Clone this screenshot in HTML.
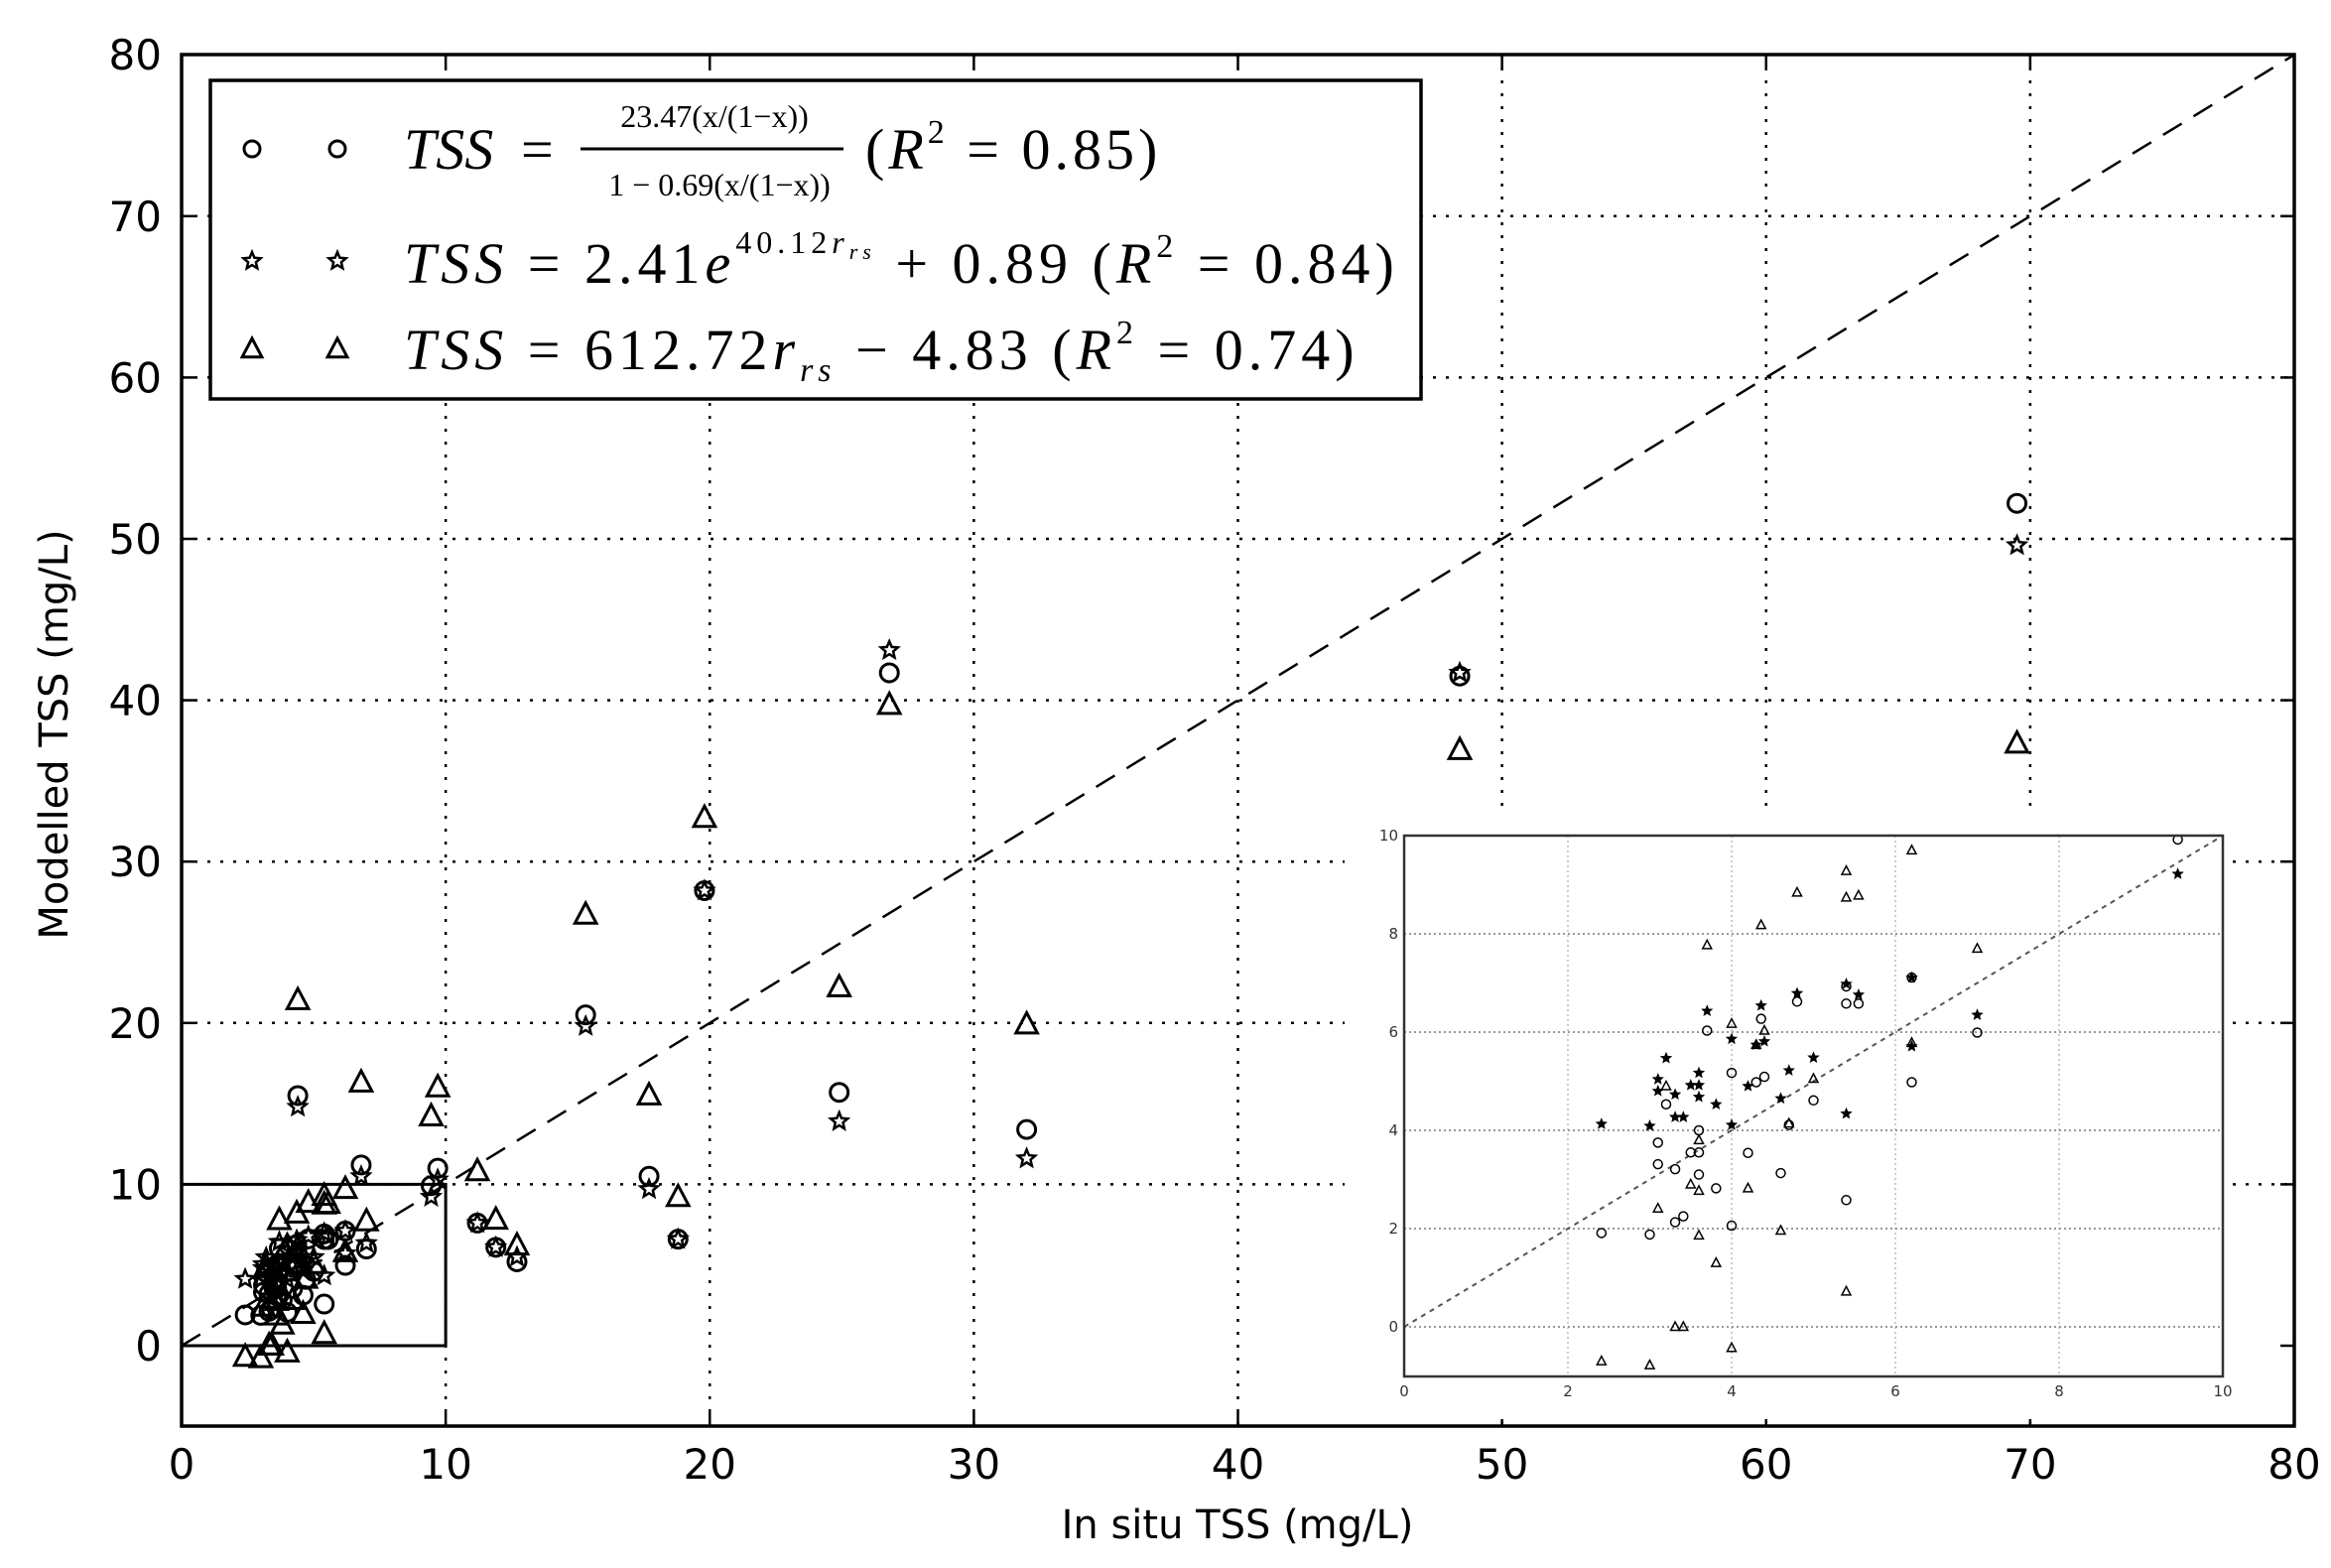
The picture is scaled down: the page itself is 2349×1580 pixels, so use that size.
<!DOCTYPE html>
<html><head><meta charset="utf-8"><style>
html,body{margin:0;padding:0;background:#fff}
svg{display:block}
text{font-family:"DejaVu Sans","Liberation Sans",sans-serif}
.ser{font-family:"Liberation Serif",serif;font-style:italic}
.up{font-family:"Liberation Serif",serif}
</style></head><body>
<svg id="chart" width="2349" height="1580" viewBox="0 0 2349 1580" xmlns="http://www.w3.org/2000/svg"></svg>
<script>
// ---- data ----
const circleX = [2.41,3.0,3.1,3.1,3.2,3.31,3.31,3.41,3.5,3.6,3.6,3.6,3.7,3.81,4.0,4.0,4.2,4.3,4.36,4.4,4.6,4.7,4.8,5.0,5.4,5.4,5.4,5.55,6.2,6.2,7.0,9.45,4.4,6.8,9.7,11.2,11.9,12.7,15.3,17.7,18.8,19.8,24.9,26.8,32.0,48.4,69.5];
const circleY = [1.91,1.88,3.75,3.31,4.53,3.21,2.13,2.25,3.55,4.0,3.55,3.1,6.03,2.82,5.17,2.06,3.54,4.98,6.27,5.09,3.13,4.11,6.62,4.61,6.58,2.58,6.93,6.58,4.98,7.11,5.99,9.92,15.5,11.2,11.0,7.6,6.1,5.2,20.5,10.5,6.6,28.2,15.7,41.7,13.4,41.5,52.2];
const starX = [2.41,3.0,3.1,3.1,3.2,3.31,3.31,3.41,3.5,3.6,3.6,3.6,3.7,3.81,4.0,4.0,4.2,4.3,4.36,4.4,4.6,4.7,4.8,5.0,5.4,5.4,5.55,6.2,6.2,7.0,9.45,4.4,6.8,9.7,11.2,11.9,12.7,15.3,17.7,18.8,19.8,24.9,26.8,32.0,48.4,69.5];
const starY = [4.13,4.09,5.04,4.8,5.47,4.73,4.27,4.27,4.92,4.92,5.17,4.68,6.43,4.53,5.86,4.11,4.9,5.74,6.54,5.81,4.65,5.22,6.79,5.48,4.34,6.98,6.76,5.71,7.11,6.35,9.22,14.8,10.5,10.3,7.6,6.1,5.5,19.8,9.7,6.6,28.2,13.9,43.1,11.6,41.7,49.6];
const triX = [2.41,3.0,3.1,3.2,3.31,3.41,3.5,3.6,3.6,3.6,3.7,3.81,4.0,4.0,4.2,4.3,4.36,4.4,4.6,4.7,4.8,5.0,5.4,5.4,5.4,5.55,6.2,6.2,7.0,4.4,6.8,9.7,9.45,11.2,11.9,12.7,15.3,17.7,18.8,19.8,24.9,26.8,32.0,48.4,69.5];
const triY = [-0.7,-0.78,2.41,4.9,0,0,2.9,1.86,3.8,2.77,7.77,1.3,6.17,-0.43,2.82,5.74,8.18,6.03,1.96,4.14,8.84,5.05,9.28,8.74,0.72,8.78,9.7,5.78,7.7,21.4,16.3,16.0,14.2,10.8,7.8,6.2,26.7,15.5,9.2,32.7,22.2,39.7,19.9,36.9,37.3];
const mainXTicks = [0,10,20,30,40,50,60,70,80];
const mainYTicks = [0,10,20,30,40,50,60,70,80];
const insetXTicks = [0,2,4,6,8,10];
const insetYTicks = [0,2,4,6,8,10];

const NS="http://www.w3.org/2000/svg";
const svg=document.getElementById('chart');
function mk(tag,attrs,parent){const e=document.createElementNS(NS,tag);for(const k in attrs)e.setAttribute(k,attrs[k]);(parent||svg).appendChild(e);return e;}

const MX0=183,MX1=2312,MY0=1356,PPY=16.26,MYB=1437,MYT=55;
const mx=v=>MX0+(v/80)*(MX1-MX0);
const my=v=>MY0-v*PPY;

const grid=mk('g',{});


mainXTicks.slice(1,-1).forEach(t=>{const l=mk('line',{x1:mx(t),x2:mx(t),y1:MYT,y2:MYB,stroke:'#000','stroke-width':2.5,'stroke-dasharray':'3,10'},grid);});
mainYTicks.slice(1,-1).forEach(t=>{const l=mk('line',{x1:MX0,x2:MX1,y1:my(t),y2:my(t),stroke:'#000','stroke-width':2.5,'stroke-dasharray':'3,10'},grid);});

const ol=mk('line',{x1:mx(0),y1:my(0),x2:mx(80),y2:my(80),stroke:'#000','stroke-width':2.5,'stroke-dasharray':'22,14'});



const zb=mk('rect',{x:mx(0),y:my(10),width:mx(10)-mx(0),height:my(0)-my(10),fill:'none',stroke:'#000','stroke-width':3});



function circ(g,x,y,r,sw){const e=mk('circle',{cx:x,cy:y,r:r,fill:'none',stroke:'#000','stroke-width':sw},g);}
function star(g,x,y,r,sw,fill){let p=[];for(let i=0;i<10;i++){const a=-Math.PI/2+i*Math.PI/5;const rr=i%2?r*0.45:r;p.push((x+rr*Math.cos(a)).toFixed(1)+','+(y+rr*Math.sin(a)).toFixed(1));}const e=mk('polygon',{points:p.join(' '),fill:fill,stroke:'#000','stroke-width':sw},g);}
function tri(g,x,y,r,sw){const e=mk('polygon',{points:`${x},${y-r} ${x+r*0.9},${y+r*0.7} ${x-r*0.9},${y+r*0.7}`,fill:'none',stroke:'#000','stroke-width':sw},g);}

const pts=mk('g',{});


circleX.forEach((x,i)=>circ(pts,mx(x),my(circleY[i]),9,3));
starX.forEach((x,i)=>star(pts,mx(starX[i]),my(starY[i]),9,2.5,'none'));
triX.forEach((x,i)=>tri(pts,mx(x),my(triY[i]),12,3));

const fr=mk('rect',{x:MX0,y:MYT,width:MX1-MX0,height:MYB-MYT,fill:'none',stroke:'#000','stroke-width':3.5});


mainXTicks.forEach(t=>{
  mk('line',{x1:mx(t),x2:mx(t),y1:MYB,y2:MYB-14,stroke:'#000','stroke-width':2.5});
  mk('line',{x1:mx(t),x2:mx(t),y1:MYT,y2:MYT+14,stroke:'#000','stroke-width':2.5});
  const tx=mk('text',{x:mx(t),y:1490,'font-size':42,'text-anchor':'middle'});tx.textContent=t;
  
});
mainYTicks.forEach(t=>{
  mk('line',{x1:MX0,x2:MX0+14,y1:my(t),y2:my(t),stroke:'#000','stroke-width':2.5});
  mk('line',{x1:MX1,x2:MX1-14,y1:my(t),y2:my(t),stroke:'#000','stroke-width':2.5});
  const tx=mk('text',{x:163,y:my(t)+15,'font-size':42,'text-anchor':'end'});tx.textContent=t;
  
});
const xl=mk('text',{x:1247,y:1550,'font-size':40,'text-anchor':'middle'});xl.textContent='In situ TSS (mg/L)';

const yl=mk('text',{x:0,y:0,'font-size':40,'text-anchor':'middle',transform:'translate(68,740) rotate(-90)'});yl.textContent='Modelled TSS (mg/L)';


// legend
const lg=mk('g',{});


mk('rect',{x:212,y:81,width:1220,height:321,fill:'#fff',stroke:'#000','stroke-width':3.5},lg);
const rows=[150,263,352];
circ(lg,254,rows[0],8,3);circ(lg,340,rows[0],8,3);
star(lg,254,rows[1],9,2.5,'none');star(lg,340,rows[1],9,2.5,'none');
tri(lg,254,rows[2],11,3);tri(lg,340,rows[2],11,3);
function T(x,y,s,cls,txt,anchor){const e=mk('text',{x:x,y:y,'font-size':s,class:cls,'text-anchor':anchor||'start'},lg);e.textContent=txt;return e;}
function TS(parent,txt,cls,size,dy){const s=mk('tspan',{class:cls,'font-size':size},parent);if(dy)s.setAttribute('dy',dy);s.textContent=txt;return s;}
const e1=T(407,170,58,'ser','TSS');
T(525,170,58,'up','=');
T(720,128,32,'up','23.47(x/(1−x))','middle');
mk('line',{x1:585,x2:850,y1:150,y2:150,stroke:'#000','stroke-width':3},lg);
T(725,197,32,'up','1 − 0.69(x/(1−x))','middle');
const r1=mk('text',{x:872,y:170,'font-size':58,'letter-spacing':4},lg);
TS(r1,'(','up');TS(r1,'R','ser');TS(r1,'2','up',34,-26);TS(r1,' = 0.85)','up',58,26);
const r2=mk('text',{x:407,y:285,'font-size':58,'letter-spacing':5},lg);

TS(r2,'TSS','ser');TS(r2,' = 2.41','up');TS(r2,'e','ser');TS(r2,'40.12','up',32,-30);TS(r2,'r','ser',32);TS(r2,'rs','ser',22,6);
TS(r2,' + 0.89 (','up',58,24);TS(r2,'R','ser');TS(r2,'2','up',34,-26);TS(r2,' = 0.84)','up',58,26);
const r3=mk('text',{x:407,y:372,'font-size':58,'letter-spacing':5},lg);

TS(r3,'TSS','ser');TS(r3,' = 612.72','up');TS(r3,'r','ser');TS(r3,'rs','ser',34,12);
TS(r3,' − 4.83 (','up',58,-12);TS(r3,'R','ser');TS(r3,'2','up',34,-26);TS(r3,' = 0.74)','up',58,26);

// inset
const ins=mk('g',{});


mk('rect',{x:1355,y:818,width:895,height:612,fill:'#fff'},ins);
const IX0=1415,IX1=2240,IY0=1337,IPY=49.5,IYT=842,IYB=1387;
const ix=v=>IX0+v/10*(IX1-IX0);
const iy=v=>IY0-v*IPY;
insetXTicks.slice(1,-1).forEach(t=>mk('line',{x1:ix(t),x2:ix(t),y1:IYT,y2:IYB,stroke:'#bbb','stroke-width':1.5,'stroke-dasharray':'2,3'},ins));
insetYTicks.forEach(t=>mk('line',{x1:IX0,x2:IX1,y1:iy(t),y2:iy(t),stroke:'#999','stroke-width':2,'stroke-dasharray':'2,3'},ins));
mk('line',{x1:ix(0),y1:iy(0),x2:ix(10),y2:iy(10),stroke:'#555','stroke-width':2,'stroke-dasharray':'5,5'},ins);
mk('clipPath',{id:'ic'},ins);
mk('rect',{x:IX0,y:IYT,width:IX1-IX0,height:IYB-IYT},document.getElementById('ic'));
const ip=mk('g',{'clip-path':'url(#ic)'},ins);


circleX.forEach((x,i)=>{if(x<=10&&circleY[i]<=10.2)circ(ip,ix(x),iy(circleY[i]),4.5,1.5);});
starX.forEach((x,i)=>{if(x<=10&&starY[i]<=10.2)star(ip,ix(x),iy(starY[i]),4.5,1.5,'#000');});
triX.forEach((x,i)=>{if(x<=10&&triY[i]<=10.2)tri(ip,ix(x),iy(triY[i]),5,1.5);});
mk('rect',{x:IX0,y:IYT,width:IX1-IX0,height:IYB-IYT,fill:'none',stroke:'#333','stroke-width':2.5},ins);
insetXTicks.forEach(t=>{const e=mk('text',{x:ix(t),y:1407,'font-size':15,'text-anchor':'middle',fill:'#333'},ins);e.textContent=t;});
insetYTicks.forEach(t=>{const e=mk('text',{x:IX0-6,y:iy(t)+5,'font-size':15,'text-anchor':'end',fill:'#333'},ins);e.textContent=t;});
</script>
</body></html>
